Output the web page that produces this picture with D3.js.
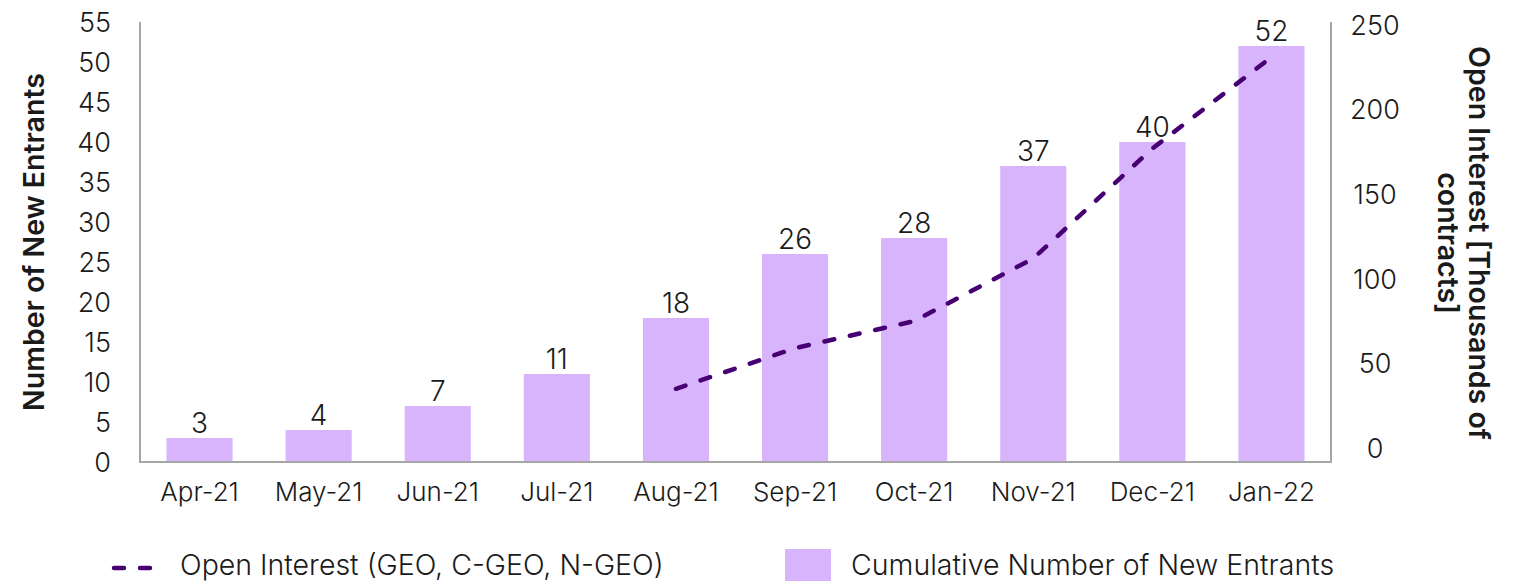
<!DOCTYPE html>
<html>
<head>
<meta charset="utf-8">
<script src="https://cdn.jsdelivr.net/npm/d3@7"></script>
<style>
  body { margin: 0; background: #fff; }
  svg text { font-family: Inter, "Open Sans", sans-serif; fill: #1a1a1a; }
  .tick-lbl { font-weight: 300; }
</style>
</head>
<body>
<div id="chart"></div>
<script>
const months = ['Apr-21', 'May-21', 'Jun-21', 'Jul-21', 'Aug-21', 'Sep-21', 'Oct-21', 'Nov-21', 'Dec-21', 'Jan-22']
const entrants = [3, 4, 7, 11, 18, 26, 28, 37, 40, 52]
const openInterest = [null, null, null, null, 35, 59, 75, 112, 177, 231]
const leftTicks = [0, 5, 10, 15, 20, 25, 30, 35, 40, 45, 50, 55]
const rightTicks = [0, 50, 100, 150, 200, 250]

const W = 1519, H = 581
const barColor = '#d8b4fc'
const lineColor = '#460073'
const axisColor = '#a6a6a6'

const svg = d3.select('#chart').append('svg').attr('width', W).attr('height', H)

const x = d3.scaleBand().domain(months).range([140, 1331]).paddingInner(0.445).paddingOuter(0.2225)
const y = d3.scaleLinear().domain([0, 55]).range([462, 22])
const y2 = d3.scaleLinear().domain([0, 250]).range([448, 25])

// bars
svg.append('g').selectAll('rect')
	.data(entrants)
	.join('rect')
	.attr('x', (d, i) => x(months[i]))
	.attr('width', x.bandwidth())
	.attr('y', d => y(d))
	.attr('height', d => y(0) - y(d))
	.attr('fill', barColor)

// bar labels
svg.append('g').selectAll('text')
	.data(entrants)
	.join('text')
	.attr('class', 'tick-lbl')
	.attr('x', (d, i) => x(months[i]) + x.bandwidth() / 2)
	.attr('y', d => y(d) - 5)
	.attr('text-anchor', 'middle')
	.attr('font-size', 28)
	.text(d => d)

// axes lines
const axes = svg.append('g').attr('stroke', axisColor).attr('stroke-width', 2).attr('fill', 'none')
axes.append('path').attr('d', `M140,22V462H1331V22`)

// left ticks
svg.append('g').selectAll('text')
	.data(leftTicks)
	.join('text')
	.attr('class', 'tick-lbl')
	.attr('x', 111)
	.attr('y', d => y(d))
	.attr('dy', '0.36em')
	.attr('text-anchor', 'end')
	.attr('font-size', 27)
	.text(d => d)

// right ticks
svg.append('g').selectAll('text')
	.data(rightTicks)
	.join('text')
	.attr('class', 'tick-lbl')
	.attr('x', 1375)
	.attr('y', d => y2(d))
	.attr('dy', '0.36em')
	.attr('text-anchor', 'middle')
	.attr('font-size', 27)
	.text(d => d)

// x labels
svg.append('g').selectAll('text')
	.data(months)
	.join('text')
	.attr('class', 'tick-lbl')
	.attr('x', d => x(d) + x.bandwidth() / 2)
	.attr('y', 492)
	.attr('dy', '0.36em')
	.attr('text-anchor', 'middle')
	.attr('font-size', 26)
	.text(d => d)

// line
const line = d3.line()
	.defined(d => d != null)
	.x((d, i) => x(months[i]) + x.bandwidth() / 2)
	.y(d => y2(d))

svg.append('path')
	.datum(openInterest)
	.attr('d', line)
	.attr('fill', 'none')
	.attr('stroke', lineColor)
	.attr('stroke-width', 4.5)
	.attr('stroke-linecap', 'round')
	.attr('stroke-dasharray', '10,16')

// axis titles
svg.append('text')
	.attr('transform', 'translate(44,242) rotate(-90)')
	.attr('text-anchor', 'middle')
	.attr('font-size', 28.5)
	.attr('font-weight', 600)
	.text('Number of New Entrants')

const rt = svg.append('text')
	.attr('transform', 'translate(1469,243) rotate(90)')
	.attr('text-anchor', 'middle')
	.attr('font-size', 28.5)
	.attr('font-weight', 600)
rt.append('tspan').attr('x', 0).attr('y', 0).text('Open Interest [Thousands of')
rt.append('tspan').attr('x', 0).attr('y', 31).text('contracts]')

// legend
const lg = svg.append('g')
lg.append('line')
	.attr('x1', 114).attr('x2', 158).attr('y1', 568).attr('y2', 568)
	.attr('stroke', lineColor).attr('stroke-width', 4.5)
	.attr('stroke-linecap', 'round').attr('stroke-dasharray', '10,16')
lg.append('text').attr('class', 'tick-lbl')
	.attr('x', 180).attr('y', 565).attr('dy', '0.36em')
	.attr('font-size', 28.5)
	.text('Open Interest (GEO, C-GEO, N-GEO)')
lg.append('rect')
	.attr('x', 785).attr('y', 549).attr('width', 46).attr('height', 32)
	.attr('fill', barColor)
lg.append('text').attr('class', 'tick-lbl')
	.attr('x', 851).attr('y', 565).attr('dy', '0.36em')
	.attr('font-size', 28.5)
	.text('Cumulative Number of New Entrants')
</script>
</body>
</html>
